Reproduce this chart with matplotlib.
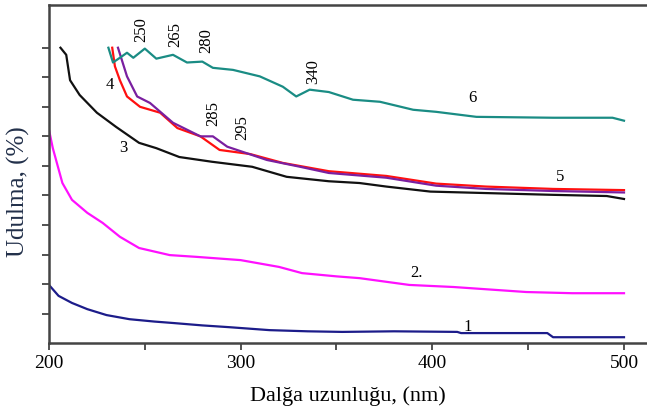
import matplotlib
matplotlib.use("Agg")
import matplotlib.pyplot as plt

plt.rcParams["font.family"] = ["Liberation Serif", "DejaVu Serif"]

# Egri 1 (goy)
x1 = [200, 205, 212, 220, 230, 242, 255, 265, 280, 294, 315, 335, 353, 380, 413, 415, 460, 463, 500]
y1 = [1.97, 1.6, 1.36, 1.15, 0.95, 0.81, 0.73, 0.68, 0.6, 0.54, 0.44, 0.4, 0.38, 0.4, 0.38, 0.34, 0.34, 0.2, 0.2]

# Egri 2 (bənövşəyi-çəhrayı)
x2 = [200, 202, 207, 212, 220, 228, 237, 247, 263, 277, 300, 320, 332, 350, 362, 388, 411, 449, 473, 500]
y2 = [7.22, 6.6, 5.42, 4.85, 4.41, 4.07, 3.6, 3.22, 2.98, 2.92, 2.81, 2.58, 2.37, 2.26, 2.2, 1.97, 1.9, 1.73, 1.69, 1.69]

# Egri 3 (qara)
x3 = [206, 209, 211, 216, 225, 235, 247, 256, 268, 285, 306, 324, 346, 362, 376, 399, 428, 463, 491, 500]
y3 = [10.0, 9.76, 8.9, 8.4, 7.8, 7.32, 6.78, 6.6, 6.3, 6.14, 5.97, 5.63, 5.48, 5.42, 5.3, 5.13, 5.08, 5.02, 4.98, 4.88]

# Egri 4 (qırmızı)
x4 = [233, 234.4, 237, 240.7, 247.5, 258, 267, 279, 289, 305, 322, 346, 376, 402, 428, 463, 500]
y4 = [10.0, 9.37, 8.9, 8.35, 8.0, 7.8, 7.28, 7.0, 6.54, 6.4, 6.1, 5.82, 5.66, 5.4, 5.3, 5.22, 5.18]

# Egri 5 (bənövşəyi)
x5 = [236, 240.7, 246, 252.7, 264.7, 279, 285.5, 293, 313.7, 331, 346, 376, 402, 428, 463, 500]
y5 = [10.0, 9.03, 8.35, 8.13, 7.46, 7.0, 7.0, 6.65, 6.2, 5.97, 5.76, 5.6, 5.33, 5.22, 5.15, 5.1]

# Egri 6 (firuzəyi)
x6 = [231, 233.4, 237, 240.7, 244, 250, 256, 264.7, 272, 280, 285.5, 296, 310, 322, 329, 336, 346,
      358.6, 372.7, 390, 402, 423, 463, 494, 500]
y6 = [10.0, 9.5, 9.66, 9.83, 9.66, 9.97, 9.63, 9.76, 9.5, 9.53, 9.32, 9.25, 9.03, 8.68, 8.35, 8.58, 8.5,
      8.24, 8.17, 7.9, 7.83, 7.66, 7.63, 7.63, 7.53]

# Pik qeydləri (dalğa uzunluqları)
peak_labels = ["250", "265", "280", "340", "285", "295"]
peak_x = [248, 265.7, 282, 337.7, 285.5, 301]
peak_y = [10.6, 10.44, 10.24, 9.19, 7.76, 7.29]

# Egri nömrələri
curve_labels = ["1", "2.", "3", "4", "5", "6"]
curve_lx = [418.6, 392, 238.6, 231.8, 466.6, 420.7]
curve_ly = [0.54, 2.37, 6.6, 8.75, 5.63, 8.3]

fig = plt.figure(figsize=(6.47, 4.08), dpi=100)
ax = fig.add_axes([0.0757, 0.159, 0.9243, 0.829])

lw = 1.6
ax.plot(x1, y1, color="#1c1c8a", lw=lw)
ax.plot(x2, y2, color="#ff10ff", lw=lw)
ax.plot(x3, y3, color="#111111", lw=lw)
ax.plot(x4, y4, color="#ff1010", lw=lw)
ax.plot(x5, y5, color="#7a1fa0", lw=lw)
ax.plot(x6, y6, color="#1a8c84", lw=lw)

for t, px, py in zip(peak_labels, peak_x, peak_y):
    ax.text(px, py, t, rotation=90, ha="center", va="center", fontsize=12)

for t, px, py in zip(curve_labels, curve_lx, curve_ly):
    ax.text(px, py, t, ha="center", va="center", fontsize=12)

ax.set_xlim(200, 512)
ax.set_ylim(0, 11.45)
ax.set_xticks([200, 250, 300, 350, 400, 450, 500])
ax.set_xticklabels(["200", "", "300", "", "400", "", "500"], fontsize=14)
ax.set_yticks(range(1, 11))
ax.set_yticklabels([])
ax.tick_params(direction="out", length=5, width=1.2, colors="#333333")
ax.tick_params(axis="x", labelcolor="black")

ax.spines["right"].set_visible(False)
for s in ["left", "top", "bottom"]:
    ax.spines[s].set_linewidth(1.8)
    ax.spines[s].set_color("#444444")

ax.set_xlabel("Dalğa uzunluğu, (nm)", fontsize=16, labelpad=10)
ax.set_ylabel("Udulma, (%)", fontsize=18, color="#22304a")
ax.yaxis.set_label_coords(-0.032, 0.447)

fig.savefig("out.png", dpi=100)
